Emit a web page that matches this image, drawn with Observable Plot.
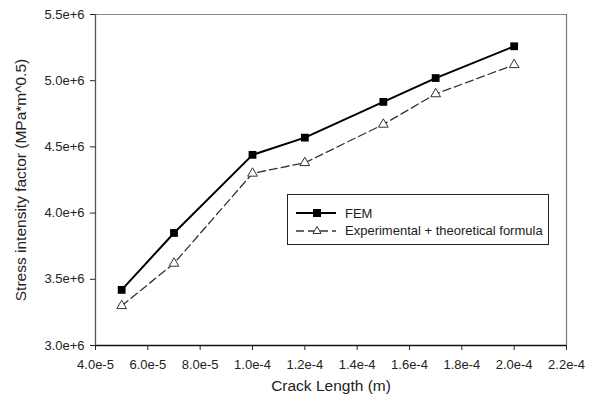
<!DOCTYPE html>
<html>
<head>
<meta charset="utf-8">
<script src="https://cdn.jsdelivr.net/npm/d3@7"></script>
<script src="https://cdn.jsdelivr.net/npm/@observablehq/plot@0.6"></script>
<style>
  html, body { margin: 0; padding: 0; background: #fff; }
  #wrap { position: relative; width: 592px; height: 401px; font-family: "Liberation Sans", Arial, sans-serif; }
  #wrap svg text { font-size: 13px !important; }
  #wrap svg text.axis-title { font-size: 15.5px !important; }
  #legend { position: absolute; left: 287px; top: 194px; width: 260px; height: 49px; border: 1px solid #222; background: #fff; font-size: 13px; color: #222; }
  #legend .row { position: absolute; left: 8px; display: flex; align-items: center; height: 16px; }
  #legend .row span { margin-left: 9px; }
</style>
</head>
<body>
<div id="wrap"></div>
<script>
const crackLength = [5e-5, 7e-5, 1.0e-4, 1.2e-4, 1.5e-4, 1.7e-4, 2.0e-4];
const femValues = [3.42e6, 3.85e6, 4.44e6, 4.57e6, 4.84e6, 5.02e6, 5.26e6];
const expValues = [3.30e6, 3.62e6, 4.30e6, 4.38e6, 4.67e6, 4.90e6, 5.12e6];
const seriesNames = ["FEM", "Experimental + theoretical formula"];
const xTicks = [4e-5, 6e-5, 8e-5, 1.0e-4, 1.2e-4, 1.4e-4, 1.6e-4, 1.8e-4, 2.0e-4, 2.2e-4];
const yTicks = [3.0e6, 3.5e6, 4.0e6, 4.5e6, 5.0e6, 5.5e6];
const xLabel = "Crack Length (m)";
const yLabel = "Stress intensity factor (MPa*m^0.5)";

const fem = crackLength.map((x, i) => ({x, y: femValues[i]}));
const exp = crackLength.map((x, i) => ({x, y: expValues[i]}));
const fmt = d3.format(".1e");

const chart = Plot.plot({
  width: 592,
  height: 401,
  marginLeft: 95,
  marginRight: 26,
  marginTop: 14,
  marginBottom: 56,
  style: {fontFamily: "Liberation Sans, Arial, sans-serif", color: "#222", background: "#fff"},
  x: {domain: [4e-5, 2.2e-4]},
  y: {domain: [3.0e6, 5.5e6]},
  marks: [
    Plot.ruleY([5.5e6], {stroke: "#888", strokeWidth: 1.2}),
    Plot.ruleX([2.2e-4], {stroke: "#777", strokeWidth: 1.2}),
    Plot.ruleY([3.0e6], {stroke: "#111", strokeWidth: 1.3}),
    Plot.ruleX([4e-5], {stroke: "#555", strokeWidth: 1.3}),
    Plot.axisX({ticks: xTicks, tickFormat: fmt, tickSize: 5, tickPadding: 9, label: null, stroke: "#222"}),
    Plot.axisY({ticks: yTicks, tickFormat: fmt, tickSize: 5, tickPadding: 6, label: null, stroke: "#222"}),
    Plot.text([xLabel], {frameAnchor: "bottom", dy: 45, fill: "#222"}),
    Plot.text([yLabel], {frameAnchor: "left", textAnchor: "middle", rotate: -90, dx: -74, fill: "#222"}),
    Plot.line(exp, {x: "x", y: "y", stroke: "#333", strokeWidth: 1.3, strokeDasharray: "8,4"}),
    Plot.dot(exp, {x: "x", y: "y", symbol: "triangle", r: 3.6, fill: "#fff", stroke: "#333", strokeWidth: 1}),
    Plot.line(fem, {x: "x", y: "y", stroke: "#000", strokeWidth: 2}),
    Plot.dot(fem, {x: "x", y: "y", symbol: "square", r: 4.4, fill: "#000", stroke: "none"})
  ]
});
chart.querySelectorAll("text").forEach(t => {
  const s = t.textContent;
  if (s === xLabel || s === yLabel) t.classList.add("axis-title");
});
document.getElementById("wrap").appendChild(chart);

const legend = document.createElement("div");
legend.id = "legend";
legend.innerHTML = `
  <div class="row" style="top:10px">
    <svg width="40" height="10"><line x1="0" y1="5" x2="40" y2="5" stroke="#000" stroke-width="2"/><rect x="17" y="1" width="8" height="8" fill="#000"/></svg>
    <span>${seriesNames[0]}</span>
  </div>
  <div class="row" style="top:27px">
    <svg width="40" height="10"><line x1="0" y1="6" x2="40" y2="6" stroke="#333" stroke-width="1.3" stroke-dasharray="8,4"/><path d="M21,1.5 L25,8.5 L17,8.5 Z" fill="#fff" stroke="#333" stroke-width="1"/></svg>
    <span>${seriesNames[1]}</span>
  </div>`;
document.getElementById("wrap").appendChild(legend);
</script>
</body>
</html>
